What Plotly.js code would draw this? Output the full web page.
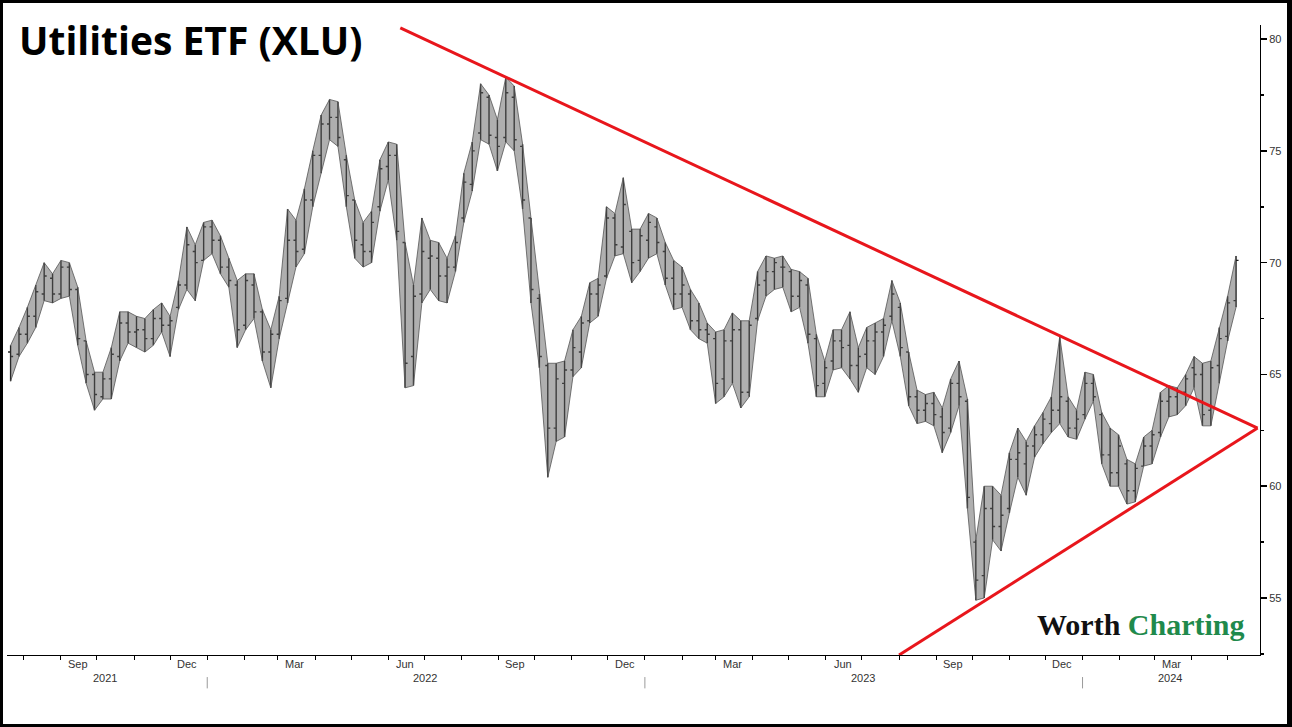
<!DOCTYPE html>
<html>
<head>
<meta charset="utf-8">
<script src="https://cdn.plot.ly/plotly-3.0.1.min.js"></script>
<style>
  html, body { margin: 0; padding: 0; background: #fff; }
  #wrap { position: relative; width: 1292px; height: 727px; }
  #chart { width: 1292px; height: 727px; }
  #frame { position: absolute; left: 0; top: 0; width: 1292px; height: 727px; box-sizing: border-box; border: 3px solid #000; border-right-width: 5px; pointer-events: none; }
</style>
</head>
<body>
<div id="wrap"><div id="chart"></div><div id="frame"></div></div>
<script>
// Weekly bars (mid-week date)
const weekDates = [
 '2021-07-21','2021-07-28','2021-08-04','2021-08-11','2021-08-18','2021-08-25','2021-09-01','2021-09-08','2021-09-15','2021-09-22','2021-09-29',
 '2021-10-06','2021-10-13','2021-10-20','2021-10-27','2021-11-03','2021-11-10','2021-11-17','2021-11-24','2021-12-01','2021-12-08','2021-12-15','2021-12-22','2021-12-29',
 '2022-01-05','2022-01-12','2022-01-19','2022-01-26','2022-02-02','2022-02-09','2022-02-16','2022-02-23','2022-03-02','2022-03-09','2022-03-16','2022-03-23','2022-03-30',
 '2022-04-06','2022-04-13','2022-04-20','2022-04-27','2022-05-04','2022-05-11','2022-05-18','2022-05-25','2022-06-01','2022-06-08','2022-06-15','2022-06-22','2022-06-29',
 '2022-07-06','2022-07-13','2022-07-20','2022-07-27','2022-08-03','2022-08-10','2022-08-17','2022-08-24','2022-08-31','2022-09-07','2022-09-14','2022-09-21','2022-09-28',
 '2022-10-05','2022-10-12','2022-10-19','2022-10-26','2022-11-02','2022-11-09','2022-11-16','2022-11-23','2022-11-30','2022-12-07','2022-12-14','2022-12-21','2022-12-28',
 '2023-01-04','2023-01-11','2023-01-18','2023-01-25','2023-02-01','2023-02-08','2023-02-15','2023-02-22','2023-03-01','2023-03-08','2023-03-15','2023-03-22','2023-03-29',
 '2023-04-05','2023-04-12','2023-04-19','2023-04-26','2023-05-03','2023-05-10','2023-05-17','2023-05-24','2023-05-31','2023-06-07','2023-06-14','2023-06-21','2023-06-28',
 '2023-07-05','2023-07-12','2023-07-19','2023-07-26','2023-08-02','2023-08-09','2023-08-16','2023-08-23','2023-08-30','2023-09-06','2023-09-13','2023-09-20','2023-09-27',
 '2023-10-04','2023-10-11','2023-10-18','2023-10-25','2023-11-01','2023-11-08','2023-11-15','2023-11-22','2023-11-29','2023-12-06','2023-12-13','2023-12-20','2023-12-27',
 '2024-01-03','2024-01-10','2024-01-17','2024-01-24','2024-01-31','2024-02-07','2024-02-14','2024-02-21','2024-02-28','2024-03-06','2024-03-13','2024-03-20','2024-03-27',
 '2024-04-03','2024-04-10','2024-04-17','2024-04-24','2024-05-01','2024-05-08'
];
const openPrices = [
 66.0,65.9,66.8,67.6,68.6,69.3,68.6,69.8,68.8,66.5,65.0,
 64.0,64.8,65.8,67.3,66.9,67.0,66.6,67.5,67.2,68.0,69.0,70.5,70.1,
 71.6,71.0,69.8,69.0,67.2,69.0,67.8,66.0,66.8,68.4,71.0,70.6,72.8,
 74.8,76.2,76.5,74.6,72.8,70.8,70.5,72.5,74.3,74.8,70.9,65.8,68.6,
 70.2,70.2,69.4,69.8,72.0,73.5,75.8,77.4,75.6,75.6,77.4,75.2,72.0,
 68.4,65.4,62.6,64.6,65.2,66.0,67.4,68.6,69.4,72.0,70.7,71.4,70.1,
 71.0,71.6,70.5,69.3,68.6,68.6,67.4,67.0,66.6,64.8,66.5,67.0,64.2,
 67.5,69.2,69.6,69.8,69.6,68.5,69.0,66.6,64.6,65.6,66.5,66.3,65.4,
 65.9,66.5,66.9,67.6,68.0,66.0,64.0,63.4,63.7,63.1,62.6,64.6,63.8,
 57.5,56.0,59.0,58.2,59.0,61.2,61.0,61.8,62.3,62.8,63.4,63.8,62.6,
 63.2,64.6,63.2,61.4,60.6,61.0,59.8,60.9,61.8,62.4,63.8,64.0,64.2,
 65.3,65.0,63.4,65.4,66.7,68.3
];
const highPrices = [
 66.3,67.1,68.0,69.0,70.0,69.5,70.1,70.0,68.9,66.5,65.1,
 65.1,66.2,67.8,67.8,67.6,67.5,67.9,68.2,67.6,69.2,71.6,70.8,71.8,
 71.9,71.2,70.2,69.2,69.5,69.5,67.9,67.0,68.5,72.4,71.9,73.3,75.0,
 76.6,77.3,77.2,74.8,72.8,71.8,72.3,74.6,75.4,75.3,70.9,69.0,72.0,
 71.0,70.9,70.2,71.2,74.0,75.4,78.0,77.5,76.4,78.3,77.9,75.3,72.0,
 68.6,65.5,65.5,65.6,67.0,67.6,69.1,69.3,72.5,72.2,73.8,71.5,71.5,
 72.2,72.0,70.9,70.1,69.8,68.8,68.2,67.3,66.9,67.0,67.75,67.4,67.4,
 69.6,70.3,70.2,70.3,69.7,69.6,69.3,66.8,65.6,67.0,67.0,67.8,66.2,
 67.1,67.3,67.5,69.2,68.2,66.0,64.3,64.1,64.2,63.5,64.8,65.6,63.9,
 57.6,60.0,60.0,59.6,61.5,62.6,62.0,62.7,63.3,64.0,66.7,64.0,63.4,
 65.1,65.0,63.3,62.6,62.3,61.2,61.0,62.2,62.5,64.2,64.5,64.4,65.0,
 65.8,65.5,65.6,67.1,68.5,70.3
];
const lowPrices = [
 64.7,65.8,66.4,67.1,68.3,68.2,68.4,68.5,66.3,64.6,63.4,
 63.9,63.9,65.6,66.4,66.2,66.0,66.3,66.9,65.8,67.9,68.8,68.3,70.1,
 70.4,69.5,68.9,66.2,67.0,67.5,65.6,64.4,66.6,68.2,69.8,70.4,72.5,
 74.0,75.5,75.2,72.5,70.2,69.8,70.0,72.3,73.7,71.0,64.4,64.5,68.2,
 68.8,68.3,68.2,69.6,71.8,73.2,75.5,75.3,74.1,75.4,75.0,72.4,68.2,
 65.3,60.4,62.0,62.2,64.9,65.3,67.3,67.6,69.3,70.3,70.4,69.1,69.6,
 70.2,70.4,69.0,67.9,68.0,67.0,66.6,66.4,63.7,64.0,64.6,63.5,64.0,
 67.4,68.5,68.8,68.9,67.8,68.0,66.4,64.0,64.0,65.2,65.3,64.8,64.2,
 65.3,65.0,65.8,67.4,65.8,63.6,62.8,62.9,62.7,61.5,62.4,63.6,59.0,
 54.9,55.0,57.6,57.1,58.8,60.4,59.6,61.3,61.9,62.4,62.8,62.2,62.1,
 63.0,63.8,61.0,60.0,60.0,59.2,59.3,60.9,61.0,62.2,63.1,63.2,63.6,
 64.4,62.7,62.7,64.6,66.5,68.0
];
const closePrices = [
 65.8,66.8,67.6,68.7,69.4,68.6,69.8,68.8,66.6,65.0,64.1,
 64.8,65.9,67.3,66.9,67.0,66.6,67.5,67.2,67.4,69.0,70.8,70.0,71.6,
 71.0,69.8,69.2,67.0,69.2,67.8,66.0,66.8,68.3,71.0,70.5,72.8,74.8,
 76.2,76.5,75.6,73.0,71.0,70.5,71.8,74.2,74.8,71.4,65.5,68.5,70.5,
 70.3,69.4,69.8,70.9,73.6,75.0,77.6,75.7,75.2,77.6,75.5,72.8,68.8,
 65.8,62.6,64.8,65.2,66.2,67.3,68.6,69.0,72.0,70.8,72.6,70.0,71.2,
 71.8,70.9,69.3,68.6,69.0,67.4,67.0,66.8,64.6,66.5,67.0,64.2,67.2,
 69.0,69.6,70.0,69.8,68.5,69.2,66.8,64.5,65.3,66.5,66.2,65.4,65.8,
 66.5,66.9,67.2,68.6,66.2,64.0,63.4,63.7,63.2,62.4,64.6,64.0,59.5,
 55.8,59.0,58.2,58.7,61.2,61.5,61.8,62.3,63.0,63.4,64.0,62.6,63.0,
 64.6,64.0,61.4,60.6,61.8,59.8,60.8,61.8,62.3,63.8,64.0,64.2,64.8,
 65.0,63.2,65.3,66.6,68.2,70.1
];

// Triangle trend lines (endpoints)
const upperLineDates = ['2022-06-11', '2024-05-26'];
const upperLineValues = [80.5, 62.6];
const lowerLineDates = ['2023-08-01', '2024-05-26'];
const lowerLineValues = [52.45, 62.6];

// Axis labels
const monthTickDates = ['2021-08-01','2021-09-01','2021-10-01','2021-11-01','2021-12-01','2022-01-01','2022-02-01','2022-03-01','2022-04-01','2022-05-01','2022-06-01','2022-07-01','2022-08-01','2022-09-01','2022-10-01','2022-11-01','2022-12-01','2023-01-01','2023-02-01','2023-03-01','2023-04-01','2023-05-01','2023-06-01','2023-07-01','2023-08-01','2023-09-01','2023-10-01','2023-11-01','2023-12-01','2024-01-01','2024-02-01','2024-03-01','2024-04-01','2024-05-01'];
const monthLabelDates = ['2021-09-15','2021-12-15','2022-03-15','2022-06-15','2022-09-15','2022-12-15','2023-03-15','2023-06-15','2023-09-15','2023-12-15','2024-03-15'];
const monthLabels = ['Sep','Dec','Mar','Jun','Sep','Dec','Mar','Jun','Sep','Dec','Mar'];
const yearLabelDates = ['2021-10-08','2022-07-02','2023-07-02','2024-03-14'];
const yearLabels = ['2021','2022','2023','2024'];
const yearBoundaries = ['2022-01-01','2023-01-01','2024-01-01'];
const priceTicks = [55, 60, 65, 70, 75, 80];

const axisFont = {family: 'Liberation Sans, Arial, sans-serif', size: 11, color: '#333'};

const traces = [
  // shaded weekly trading range (gives the dense bar-band look)
  {
    type: 'scatter', mode: 'lines', x: weekDates, y: lowPrices, line: {width: 0.8, color: '#555'},
    hoverinfo: 'skip', showlegend: false
  },
  {
    type: 'scatter', mode: 'lines', x: weekDates, y: highPrices, line: {width: 0.8, color: '#555'},
    fill: 'tonexty', fillcolor: 'rgba(95,95,95,0.5)', hoverinfo: 'skip', showlegend: false
  },
  {
    type: 'ohlc', x: weekDates, open: openPrices, high: highPrices, low: lowPrices, close: closePrices,
    increasing: {line: {color: '#1a1a1a', width: 1.4}},
    decreasing: {line: {color: '#1a1a1a', width: 1.4}},
    tickwidth: 0.3, hoverinfo: 'skip', showlegend: false
  },
  {
    type: 'scatter', mode: 'lines', x: upperLineDates, y: upperLineValues,
    line: {color: '#e8161c', width: 3}, hoverinfo: 'skip', showlegend: false, cliponaxis: true
  },
  {
    type: 'scatter', mode: 'lines', x: lowerLineDates, y: lowerLineValues,
    line: {color: '#e8161c', width: 3}, hoverinfo: 'skip', showlegend: false, cliponaxis: true
  }
];

const annotations = [];
monthLabels.forEach((t, i) => annotations.push({
  x: monthLabelDates[i], xref: 'x', y: -0.0135, yref: 'paper', text: t, showarrow: false,
  xanchor: 'center', yanchor: 'middle', font: axisFont
}));
yearLabels.forEach((t, i) => annotations.push({
  x: yearLabelDates[i], xref: 'x', y: -0.036, yref: 'paper', text: t, showarrow: false,
  xanchor: 'center', yanchor: 'middle', font: axisFont
}));
annotations.push({
  x: (1141 - 7) / 1253, xref: 'paper', y: 0.048, yref: 'paper', showarrow: false, xanchor: 'center', yanchor: 'middle',
  text: '<span style="color:#111">Worth</span> <span style="color:#1f8a4c">Charting</span>',
  font: {family: 'Liberation Serif, DejaVu Serif, serif', size: 30, weight: 700}
});

const shapes = yearBoundaries.map(d => ({
  type: 'line', xref: 'x', yref: 'paper', x0: d, x1: d, y0: -0.035, y1: -0.053,
  line: {color: '#9a9a9a', width: 1}
}));

const layout = {
  width: 1292, height: 727,
  margin: {l: 7, r: 32, t: 25, b: 72},
  paper_bgcolor: '#fff', plot_bgcolor: '#fff',
  showlegend: false,
  title: {
    text: '<b>Utilities ETF (XLU)</b>',
    font: {family: 'Open Sans, sans-serif', size: 39, color: '#000'},
    xref: 'container', yref: 'container', x: 19 / 1292, xanchor: 'left', y: 1 - 41 / 727, yanchor: 'middle'
  },
  xaxis: {
    type: 'date', range: ['2021-07-18', '2024-05-28'],
    rangeslider: {visible: false},
    showgrid: false, zeroline: false,
    showline: true, linecolor: '#000', linewidth: 1,
    tickmode: 'array', tickvals: monthTickDates, ticktext: monthTickDates.map(() => ''),
    ticks: 'outside', ticklen: 4, tickcolor: '#000', showticklabels: false
  },
  yaxis: {
    side: 'right', range: [52.45, 80.63],
    showgrid: false, zeroline: false,
    showline: true, linecolor: '#000', linewidth: 1,
    tickmode: 'array', tickvals: priceTicks, ticktext: priceTicks.map(String),
    ticks: 'outside', ticklen: 6, tickcolor: '#000', tickwidth: 1.5,
    tickfont: axisFont,
    minor: {dtick: 2.5, tick0: 52.5, ticks: 'outside', ticklen: 3, tickcolor: '#000', showgrid: false}
  },
  annotations: annotations,
  shapes: shapes
};

Plotly.newPlot('chart', traces, layout, {displayModeBar: false, staticPlot: true});
</script>
</body>
</html>
